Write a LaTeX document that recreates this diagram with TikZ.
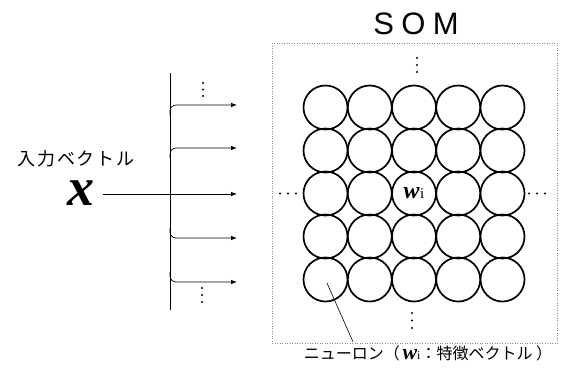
\documentclass[tikz,border=0pt]{standalone}
\usepackage{fontspec}
\usetikzlibrary{arrows.meta}
\newfontfamily\jpfont{Noto Sans CJK JP}
\newfontfamily\jpwide[LetterSpace=10]{Noto Sans CJK JP}
\newfontfamily\somfont[LetterSpace=24]{Liberation Sans}
\newfontfamily\serfont{Liberation Serif}
\begin{document}
\begin{tikzpicture}[x=1pt,y=-1pt,
  neuron/.style={circle,draw,line width=1.7pt,minimum size=44pt,inner sep=0pt},
  arr/.style={line width=0.7pt,-{Latex[length=6pt,width=4.5pt]}},
  thin line/.style={line width=0.7pt},
  dotmark/.style={fill=black,radius=1.1pt},
  box/.style={draw=black!45,dotted,line width=0.5pt}]
\useasboundingbox (0,0) rectangle (564,378);
% title and map box
\node (som) at (416,24) {\somfont\fontsize{31}{31}\selectfont SOM};
\node[box,minimum width=285pt,minimum height=300pt,inner sep=0pt] (map) at (414.5,193) {};
% neurons
\foreach \r in {1,...,5}{
  \foreach \c in {1,...,5}{
    \node[neuron] (n\r\c) at ({325.5+44.25*(\c-1)},{107.5+43*(\r-1)}) {};
  }
}
\node at (n33) {\serfont\bfseries\itshape\fontsize{24}{24}\selectfont w\kern0.5pt{\normalfont\serfont\fontsize{15}{15}\selectfont i}};
% dots of the map
\foreach \y in {58,65,72} \fill[dotmark] (417,\y) circle;
\foreach \y in {313,320.5,328} \fill[dotmark] (412,\y) circle;
\foreach \x in {280,288,296} \fill[dotmark] (\x,193.5) circle;
\foreach \x in {529,537,545} \fill[dotmark] (\x,193.5) circle;
% input
\node[inner sep=0pt] (lbl) at (76,159) {\jpwide\fontsize{18}{18}\selectfont 入力ベクトル};
\node[anchor=base,inner sep=0pt] (xin) at (81,205) {\serfont\bfseries\itshape\fontsize{54}{54}\selectfont x};
\coordinate (xs) at (103,194);
\coordinate (top) at (170,73);
\coordinate (bot) at (170,310);
\coordinate (a1) at (237,105);
\coordinate (a2) at (237,148);
\coordinate (a3) at (237,194);
\coordinate (a4) at (237,238);
\coordinate (a5) at (237,282);
\draw[thin line] (top) -- (bot);
\draw[arr] (xs) -- (a3);
\draw[arr,rounded corners=6pt] (170,115) -- (170,105) -- (a1);
\draw[arr,rounded corners=6pt] (170,158) -- (170,148) -- (a2);
\draw[arr,rounded corners=6pt] (170,228) -- (170,238) -- (a4);
\draw[arr,rounded corners=6pt] (170,272) -- (170,282) -- (a5);
\foreach \y in {83,89.5,96} \fill[dotmark] (203,\y) circle;
\foreach \y in {288,295,302} \fill[dotmark] (202,\y) circle;
% neuron label
\node (nlbl) at (428,353) {\jpfont\fontsize{16}{16}\selectfont ニューロン（\,{\serfont\bfseries\itshape\fontsize{22}{22}\selectfont w}{\serfont\fontsize{12}{12}\selectfont i}：特徴ベクトル\ ）};
\coordinate (ptr) at (327,283);
\draw[line width=0.6pt] (ptr) -- (nlbl.north -| 353,0);
\end{tikzpicture}
\end{document}
